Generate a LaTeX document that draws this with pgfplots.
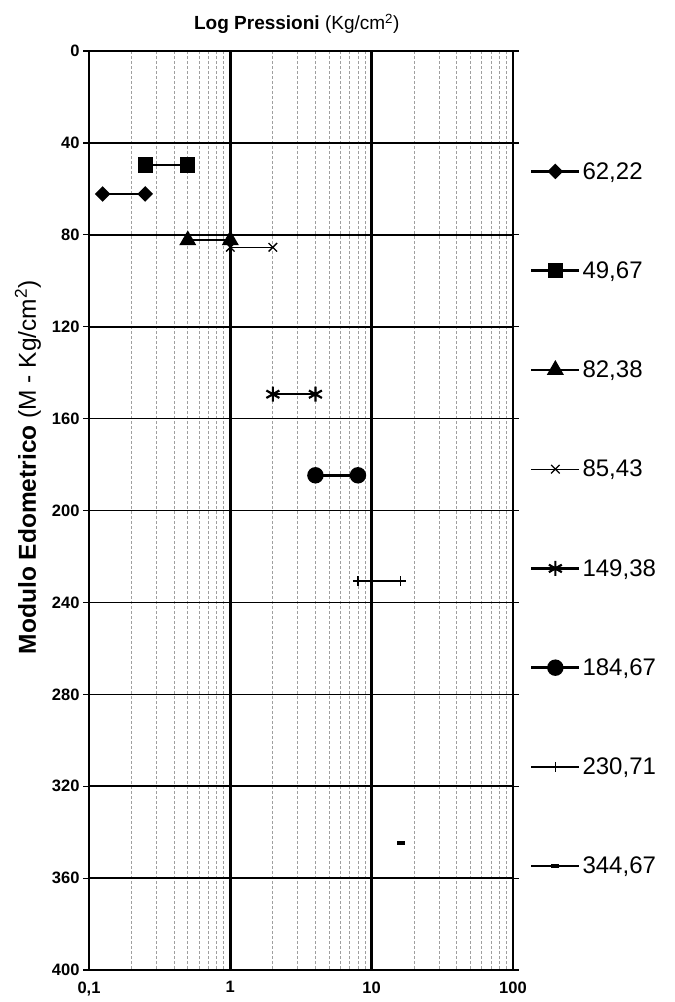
\documentclass[border=0pt]{standalone}
\usepackage{pgfplots}
\pgfplotsset{compat=1.18}
\usepackage{fontspec}
\setmainfont{Liberation Sans}
\begin{document}
\begin{tikzpicture}[x=1pt,y=1pt]
\useasboundingbox (0,0) rectangle (675,-1002);
\begin{axis}[
  at={(89pt,-970pt)}, anchor=south west,
  scale only axis, width=424pt, height=919pt,
  xmode=log, xmin=0.1, xmax=100,
  ymin=0, ymax=400, y dir=reverse,
  ytick={0,40,...,400},
  yticklabels={0,40,80,120,160,200,240,280,320,360,400},
  xtick={0.1,1,10,100}, xticklabels={{0,1},1,10,100},
  tick label style={font=\fontsize{16.5}{16.5}\selectfont\bfseries},
  xticklabel style={yshift=-2pt},
  xtick style={draw=none},
  ytick style={line width=1.2pt, black},
  tick align=outside, major tick length=6pt, minor tick length=0pt,
  xmajorgrids, xminorgrids, ymajorgrids,
  major x grid style={line width=2.4pt, black},
  major y grid style={line width=1.6pt, black},
  minor x grid style={line width=0.8pt, gray!75, dash pattern=on 3pt off 2pt},
  axis line style={line width=2.6pt, black},
  title={\textbf{Log Pressioni} (Kg/cm\textsuperscript{2})},
  title style={font=\fontsize{19}{21}\selectfont, at={(0.49,1)}, anchor=south, yshift=8pt},
  ylabel={\textbf{Modulo Edometrico} (M - Kg/cm\textsuperscript{2})},
  ylabel style={font=\fontsize{24.5}{26}\selectfont, at={(axis description cs:-0.144,0.547)}, anchor=center},
  legend style={at={(1.04,0.491)}, anchor=west, draw=none, fill=none,
    font=\fontsize{24}{26}\selectfont, row sep=77pt, inner sep=0pt},
  legend cell align=left,
  legend image code/.code={\draw[mark repeat=2,mark phase=2,#1] plot coordinates {(0pt,0pt) (24pt,0pt) (48pt,0pt)};},
]
\addplot[black, line width=2.4pt, mark=square*, mark size=4.3pt, mark options={rotate=45, solid}] coordinates {(0.125,62.22) (0.25,62.22)};
\addlegendentry{62,22}
\addplot[black, line width=2.4pt, mark=square*, mark size=6.5pt] coordinates {(0.25,49.67) (0.5,49.67)};
\addlegendentry{49,67}
\addplot[black, line width=2.4pt, mark=triangle*, mark size=7.5pt] coordinates {(0.5,82.38) (1,82.38)};
\addlegendentry{82,38}
\addplot[black, line width=1.3pt, mark=x, mark size=6pt] coordinates {(1,85.43) (2,85.43)};
\addlegendentry{85,43}
\addplot[black, line width=2.2pt, mark=asterisk, mark size=7.5pt] coordinates {(2,149.38) (4,149.38)};
\addlegendentry{149,38}
\addplot[black, line width=2.4pt, mark=*, mark size=7pt] coordinates {(4,184.67) (8,184.67)};
\addlegendentry{184,67}
\addplot[black, line width=1.3pt, mark=+, mark size=5pt] coordinates {(8,230.71) (16,230.71)};
\addlegendentry{230,71}
\addplot[black, line width=2.2pt, mark=-, mark size=4pt, mark options={line width=4.5pt}] coordinates {(16,344.67)};
\addlegendentry{344,67}
\end{axis}
\end{tikzpicture}
\end{document}
